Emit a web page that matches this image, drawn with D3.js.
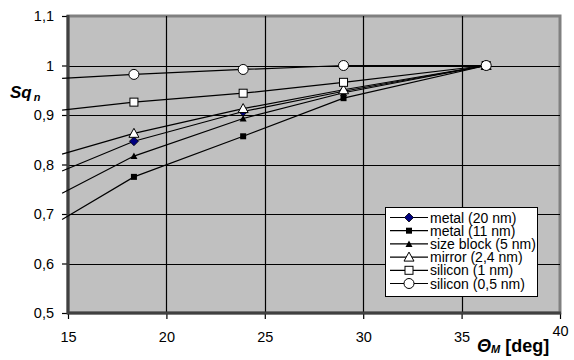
<!DOCTYPE html>
<html>
<head>
<meta charset="utf-8">
<script src="https://cdn.jsdelivr.net/npm/d3@7"></script>
<style>
body { margin: 0; background: #fff; }
text { font-family: "Liberation Sans", Arial, sans-serif; }
</style>
</head>
<body>
<div id="chart-area"></div>
<script>
// angle values (deg); the first point lies just left of the axis
var angles = [14.7, 18.35, 23.9, 29.0, 36.25];

var seriesNames = ['metal (20 nm)', 'metal (11 nm)', 'size block (5 nm)',
    'mirror (2,4 nm)', 'silicon (1 nm)', 'silicon (0,5 nm)'];

var metal20 = [0.787, 0.847, 0.907, 0.948, 1.0];
var metal11 = [0.689, 0.775, 0.857, 0.934, 1.0];
var sizeBlock = [0.742, 0.817, 0.893, 0.945, 1.0];
var mirror = [0.821, 0.863, 0.913, 0.951, 1.0];
var silicon1 = [0.910, 0.926, 0.944, 0.966, 1.0];
var silicon05 = [0.974, 0.982, 0.992, 1.0, 1.0];

var xTicks = [15, 20, 25, 30, 35, 40];
var yTicks = [0.5, 0.6, 0.7, 0.8, 0.9, 1.0, 1.1];

var markers = ['diamond', 'square', 'triangle', 'triangleOpen', 'squareOpen', 'circleOpen'];
var allValues = [metal20, metal11, sizeBlock, mirror, silicon1, silicon05];

var margin = { left: 68, right: 14, top: 16, bottom: 47 };
var width = 574 - margin.left - margin.right,
    height = 360 - margin.top - margin.bottom;

var svg = d3.select('#chart-area')
    .append('svg')
    .attr('width', 574)
    .attr('height', 360);

var g = svg.append('g')
    .attr('transform', 'translate(' + margin.left + ', ' + margin.top + ')');

var xScale = d3.scaleLinear().domain([15, 40]).range([0, width]);
var yScale = d3.scaleLinear().domain([0.5, 1.1]).range([height, 0]);

// plot background
g.append('rect')
    .attr('width', width)
    .attr('height', height)
    .attr('fill', '#c0c0c0')
    .attr('stroke', '#808080')
    .attr('stroke-width', 3);

// grid
g.selectAll('.hgrid')
    .data(yTicks.slice(1, -1))
    .enter()
    .append('line')
    .attr('x1', 0).attr('x2', width)
    .attr('y1', function(d) { return Math.round(yScale(d)) + 0.5; })
    .attr('y2', function(d) { return Math.round(yScale(d)) + 0.5; })
    .attr('stroke', '#000')
    .attr('stroke-width', 1.2);

g.selectAll('.vgrid')
    .data(xTicks.slice(1, -1))
    .enter()
    .append('line')
    .attr('y1', 0).attr('y2', height)
    .attr('x1', function(d) { return Math.round(xScale(d)) + 0.5; })
    .attr('x2', function(d) { return Math.round(xScale(d)) + 0.5; })
    .attr('stroke', '#000')
    .attr('stroke-width', 1.2);

// axes
var xAxisCall = d3.axisBottom(xScale)
    .tickValues(xTicks)
    .tickSize(6)
    .tickPadding(13)
    .tickFormat(d3.format('d'));

var yAxisCall = d3.axisLeft(yScale)
    .tickValues(yTicks)
    .tickSize(6)
    .tickPadding(8)
    .tickFormat(function(d) { return d3.format('.1~f')(d).replace('.', ','); });

var xAxis = g.append('g')
    .attr('transform', 'translate(0, ' + height + ')')
    .call(xAxisCall);

var yAxis = g.append('g')
    .call(yAxisCall);

[xAxis, yAxis].forEach(function(a) {
    a.select('.domain').remove();
    a.selectAll('line').attr('stroke', '#000').attr('stroke-width', 1.2);
    a.selectAll('text')
        .attr('font-size', '14.5px')
        .attr('fill', '#000')
        .attr('font-family', '"Liberation Sans", Arial, sans-serif');
});

// the "40" label sits a little higher
xAxis.selectAll('.tick text')
    .filter(function(d) { return d === 40; })
    .attr('dy', '0.3em');

g.append('line')
    .attr('x1', 0).attr('x2', 0)
    .attr('y1', -1).attr('y2', height + 1)
    .attr('stroke', '#404040').attr('stroke-width', 3);
g.append('line')
    .attr('x1', -1).attr('x2', width + 1)
    .attr('y1', height).attr('y2', height)
    .attr('stroke', '#404040').attr('stroke-width', 3);

// lines
var line = d3.line()
    .x(function(d) { return xScale(d[0]); })
    .y(function(d) { return yScale(d[1]); });

var seriesData = allValues.map(function(vals, i) {
    return {
        name: seriesNames[i],
        marker: markers[i],
        points: vals.map(function(v, j) { return [angles[j], v]; })
    };
});

var lineLayer = svg.append('g')
    .attr('transform', 'translate(' + margin.left + ', ' + margin.top + ')');

lineLayer.selectAll('path.series')
    .data(seriesData)
    .enter()
    .append('path')
    .attr('class', 'series')
    .attr('d', function(d) { return line(d.points); })
    .attr('fill', 'none')
    .attr('stroke', '#000')
    .attr('stroke-width', 1.2);

function drawMarker(sel, type, cx, cy) {
    if (type === 'diamond') {
        sel.append('path')
            .attr('d', 'M' + cx + ',' + (cy - 4.5) + 'L' + (cx + 4.5) + ',' + cy +
                'L' + cx + ',' + (cy + 4.5) + 'L' + (cx - 4.5) + ',' + cy + 'Z')
            .attr('fill', '#000080').attr('stroke', '#000').attr('stroke-width', 0.8);
    } else if (type === 'square') {
        sel.append('rect')
            .attr('x', cx - 3).attr('y', cy - 3).attr('width', 6).attr('height', 6)
            .attr('fill', '#000');
    } else if (type === 'triangle') {
        sel.append('path')
            .attr('d', 'M' + cx + ',' + (cy - 3.5) + 'L' + (cx + 3.5) + ',' + (cy + 3) +
                'L' + (cx - 3.5) + ',' + (cy + 3) + 'Z')
            .attr('fill', '#000');
    } else if (type === 'triangleOpen') {
        sel.append('path')
            .attr('d', 'M' + cx + ',' + (cy - 5) + 'L' + (cx + 5) + ',' + (cy + 4) +
                'L' + (cx - 5) + ',' + (cy + 4) + 'Z')
            .attr('fill', '#fff').attr('stroke', '#000').attr('stroke-width', 1);
    } else if (type === 'squareOpen') {
        sel.append('rect')
            .attr('x', cx - 4).attr('y', cy - 4).attr('width', 8).attr('height', 8)
            .attr('fill', '#fff').attr('stroke', '#000').attr('stroke-width', 1);
    } else {
        sel.append('circle')
            .attr('cx', cx).attr('cy', cy).attr('r', 5)
            .attr('fill', '#fff').attr('stroke', '#000').attr('stroke-width', 1);
    }
}

seriesData.forEach(function(s) {
    var mg = lineLayer.append('g');
    s.points.forEach(function(p) {
        if (p[0] >= 15 && p[0] <= 40) {
            drawMarker(mg, s.marker, xScale(p[0]), yScale(p[1]));
        }
    });
});

// legend
var legend = svg.append('g').attr('transform', 'translate(385, 207)');
legend.append('rect')
    .attr('x', 0.5).attr('y', 0.5)
    .attr('width', 152).attr('height', 89)
    .attr('fill', '#fff')
    .attr('stroke', '#000')
    .attr('stroke-width', 1);

seriesData.forEach(function(s, i) {
    var y = 10.5 + i * 13.2;
    legend.append('line')
        .attr('x1', 5).attr('x2', 43)
        .attr('y1', y).attr('y2', y)
        .attr('stroke', '#000').attr('stroke-width', 1.2);
    drawMarker(legend, s.marker, 24, y);
    legend.append('text')
        .attr('x', 45).attr('y', y + 5)
        .attr('font-size', '14px')
        .text(s.name);
});

// axis titles
var yTitle = svg.append('text')
    .attr('x', 10).attr('y', 98)
    .attr('font-size', '17px')
    .attr('font-weight', 'bold')
    .attr('font-style', 'italic');
yTitle.append('tspan').text('Sq');
yTitle.append('tspan').attr('dx', 2).attr('dy', 3).attr('font-size', '11px').text('n');

var xTitle = svg.append('text')
    .attr('x', 477).attr('y', 352)
    .attr('font-size', '18px')
    .attr('font-weight', 'bold');
xTitle.append('tspan').attr('font-style', 'italic').text('Θ');
xTitle.append('tspan').attr('font-style', 'italic').attr('font-size', '11px').attr('dy', 1).text('M');
xTitle.append('tspan').attr('dy', -1).attr('dx', 5).text('[deg]');
</script>
</body>
</html>
